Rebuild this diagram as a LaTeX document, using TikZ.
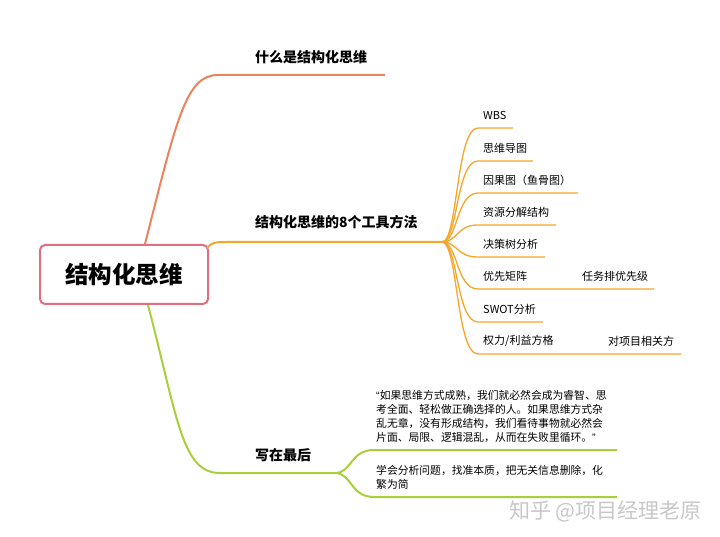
\documentclass[tikz,border=0pt]{standalone}
\usepackage{fontspec}
\setmainfont{Noto Sans CJK SC}
\newfontfamily\latinq{Liberation Sans}
\definecolor{boxc}{HTML}{E07080}
\definecolor{cone}{HTML}{EA845E}
\definecolor{ctwo}{HTML}{F6A72A}
\definecolor{cthree}{HTML}{A9CF3B}
\definecolor{wm}{HTML}{C8C8C8}
\begin{document}
\begin{tikzpicture}[x=1pt,y=-1pt,
  mainline/.style={line width=2pt},
  subline/.style={line width=1.3pt},
  lbl/.style={anchor=west, inner sep=0pt, font=\fontsize{14}{16}\selectfont\bfseries},
  sublbl/.style={anchor=west, inner sep=0pt, font=\fontsize{11}{13}\selectfont},
  para/.style={anchor=west, inner sep=0pt, align=left, font=\fontsize{10.8}{14}\selectfont}]
\useasboundingbox (0,0) rectangle (720,537);
\fill[white] (0,0) rectangle (720,537);

% root
\node[draw=boxc, line width=2pt, rounded corners=5pt, minimum width=168pt, minimum height=59pt,
      fill=white, font=\fontsize{23.5}{26}\selectfont\bfseries] (root) at (124,274.5) {结构化思维};

% branch 1
\coordinate (b1e) at (385,75);
\node[lbl] (l1) at (255,57) {什么是结构化思维};
\draw[cone,mainline] ([xshift=21pt]root.north) .. controls (177,118) and (186,75) .. (218,75) -- (b1e);

% branch 2
\coordinate (b2) at (442,242);
\node[lbl] (l2) at (255,222) {结构化思维的8个工具方法};
\draw[ctwo,mainline] ([xshift=-2pt,yshift=-4pt]root.north east) .. controls (211,243) and (214,242) .. (226,242) -- (b2);

% branch 3
\coordinate (b3) at (335,473);
\node[lbl] (l3) at (255,455) {写在最后};
\draw[cthree,mainline] ([xshift=24pt]root.south) .. controls (178,420) and (182,473) .. (220,473) -- (b3);

% sub-branches of branch 2
\foreach \nm/\txt/\yy/\xe in {
  s1/WBS/128/513,
  s2/思维导图/161/533,
  s3/因果图（鱼骨图）/193/578,
  s4/资源分解结构/225/556,
  s5/决策树分析/257/545,
  s6/优先矩阵/289/654,
  s7/SWOT分析/322/543,
  s8/{权力/利益方格}/354/681}{
  \node[sublbl] (\nm) at (483,\yy-13) {\txt};
  \coordinate (\nm e) at (\xe,\yy);
  \draw[ctwo,subline] (b2) .. controls (458,242) and (456,\yy) .. (478,\yy) -- (\nm e);
}
\node[sublbl] (n6) at (582,276) {任务排优先级};
\node[sublbl] (n8) at (608,341) {对项目相关方};

% sub-branches of branch 3
\coordinate (t1e) at (617,450);
\coordinate (t2e) at (617,497);
\draw[cthree,mainline] (b3) .. controls (352,473) and (350,450) .. (374,450) -- (t1e);
\draw[cthree,mainline] (b3) .. controls (352,473) and (350,497) .. (374,497) -- (t2e);
\node[para] (q1) at (376,416) {{\latinq “}如果思维方式成熟，我们就必然会成为睿智、思\\考全面、轻松做正确选择的人。如果思维方式杂\\乱无章，没有形成结构，我们看待事物就必然会\\片面、局限、逻辑混乱，从而在失败里循环。{\latinq ”}};
\node[para] (q2) at (376,477) {学会分析问题，找准本质，把无关信息删除，化\\繁为简};

% watermark
\node[anchor=west, inner sep=0pt, text=wm, font=\fontsize{21}{23}\selectfont] (wmk) at (509,511) {知乎 @项目经理老原};
\end{tikzpicture}
\end{document}
